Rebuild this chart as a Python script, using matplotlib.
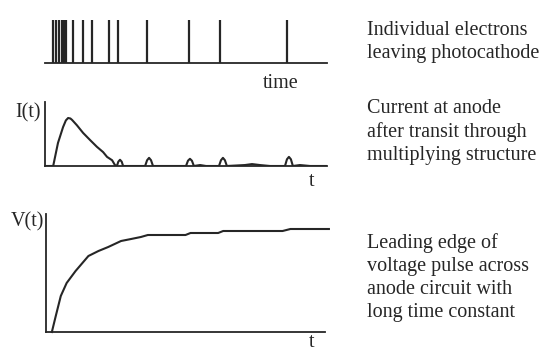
import matplotlib.pyplot as plt
import numpy as np

W, H = 545, 351

# panel 1: arrival times of single electrons (time units 0..100 along the axis)
spike_times = [3.0, 3.9, 4.8, 6.0, 6.9, 7.4, 10.0, 13.6, 16.6, 22.7, 26.0, 36.1, 51.2, 62.1, 85.9]

# panel 2: anode current, I(t), same time units (peak = 1)
i_t = [0, 2.9, 4.6, 6.4, 7.4, 8.2, 9.0, 9.6, 11.3, 13.5, 16.0, 18.4, 20.6, 22.0, 23.8,
       24.8, 25.5, 26.0, 26.6, 27.2, 27.7,
       35.5, 36.2, 36.9, 37.6, 38.3,
       50.0, 50.7, 51.4, 52.1, 52.8, 55.0, 57.1,
       61.7, 62.4, 63.1, 63.8, 64.5,
       70.9, 73.4, 76.2, 79.8,
       85.1, 85.8, 86.5, 87.2, 87.9, 90.4, 94.0, 100.0]
i_val = [0, 0, 0.48, 0.81, 0.95, 1.0, 0.99, 0.96, 0.85, 0.69, 0.54, 0.40, 0.29, 0.19, 0.12,
         0.02, 0.0, 0.09, 0.13, 0.09, 0.0,
         0.0, 0.12, 0.17, 0.12, 0.0,
         0.0, 0.11, 0.15, 0.11, 0.0, 0.02, 0.0,
         0.0, 0.12, 0.17, 0.12, 0.0,
         0.02, 0.04, 0.02, 0.0,
         0.0, 0.14, 0.19, 0.14, 0.0, 0.02, 0.0, 0.0]

# panel 3: anode voltage, V(t)
v_t = [2.1, 3.5, 5.3, 7.4, 10.6, 15.2, 18.8, 22.3, 26.9, 30.5, 34.0, 36.5, 50.0,
       51.8, 61.7, 63.5, 84.8, 87.6, 101.4]
v_val = [0, 16, 36, 49, 61, 76, 81, 85, 91, 93, 95, 97, 97, 99, 99, 101, 101, 103, 103]

ink = '#262626'
plt.rcParams['font.family'] = ['Liberation Serif', 'DejaVu Serif']
fs = 14.5

fig = plt.figure(figsize=(W / 100, H / 100), dpi=100)


def box(x0, x1, ytop, ybot):
    return [x0 / W, 1 - ybot / H, (x1 - x0) / W, (ybot - ytop) / H]


def px(x, y):
    return x / W, 1 - y / H


# ---- panel 1
ax1 = fig.add_axes(box(45, 327, 20, 63))
ax1.vlines(spike_times, 0, 1, color=ink, lw=1.6)
ax1.set_xlim(0, 100)
ax1.set_ylim(0, 1)
for s in ['top', 'right', 'left']:
    ax1.spines[s].set_visible(False)
ax1.spines['bottom'].set_color(ink)
ax1.spines['bottom'].set_linewidth(1.3)
ax1.set_xticks([])
ax1.set_yticks([])
ax1.patch.set_alpha(0)

# ---- panel 2
ax2 = fig.add_axes(box(45, 327, 102, 166))
ax2.plot(i_t, i_val, color=ink, lw=1.5)
ax2.set_xlim(0, 100)
ax2.set_ylim(0, 64 / 48)

# ---- panel 3
ax3 = fig.add_axes(box(46, 325, 214, 332))
ax3.plot(v_t, v_val, color=ink, lw=1.5, clip_on=False)
ax3.set_xlim(0, 100)
ax3.set_ylim(0, 118)

for ax in (ax2, ax3):
    for s in ['top', 'right']:
        ax.spines[s].set_visible(False)
    for s in ['left', 'bottom']:
        ax.spines[s].set_color(ink)
        ax.spines[s].set_linewidth(1.3)
    ax.set_xticks([])
    ax.set_yticks([])
    ax.patch.set_alpha(0)

# axis labels
fig.text(*px(281, 88), 'time', ha='center', va='baseline', fontsize=fs, color=ink)
fig.text(*px(41, 113), 'I(t)', ha='right', va='center', fontsize=fs, color=ink)
fig.text(*px(312, 186), 't', ha='center', va='baseline', fontsize=fs, color=ink)
fig.text(*px(44, 222), 'V(t)', ha='right', va='center', fontsize=fs, color=ink)
fig.text(*px(312, 347), 't', ha='center', va='baseline', fontsize=fs, color=ink)

# descriptions
notes = [
    (35, 'Individual electrons'),
    (58, 'leaving photocathode'),
    (113, 'Current at anode'),
    (137, 'after transit through'),
    (160, 'multiplying structure'),
    (248, 'Leading edge of'),
    (271, 'voltage pulse across'),
    (294, 'anode circuit with'),
    (317, 'long time constant'),
]
for y, s in notes:
    fig.text(*px(367, y), s, ha='left', va='baseline', fontsize=fs, color=ink)

fig.savefig('out.png', dpi=100)
